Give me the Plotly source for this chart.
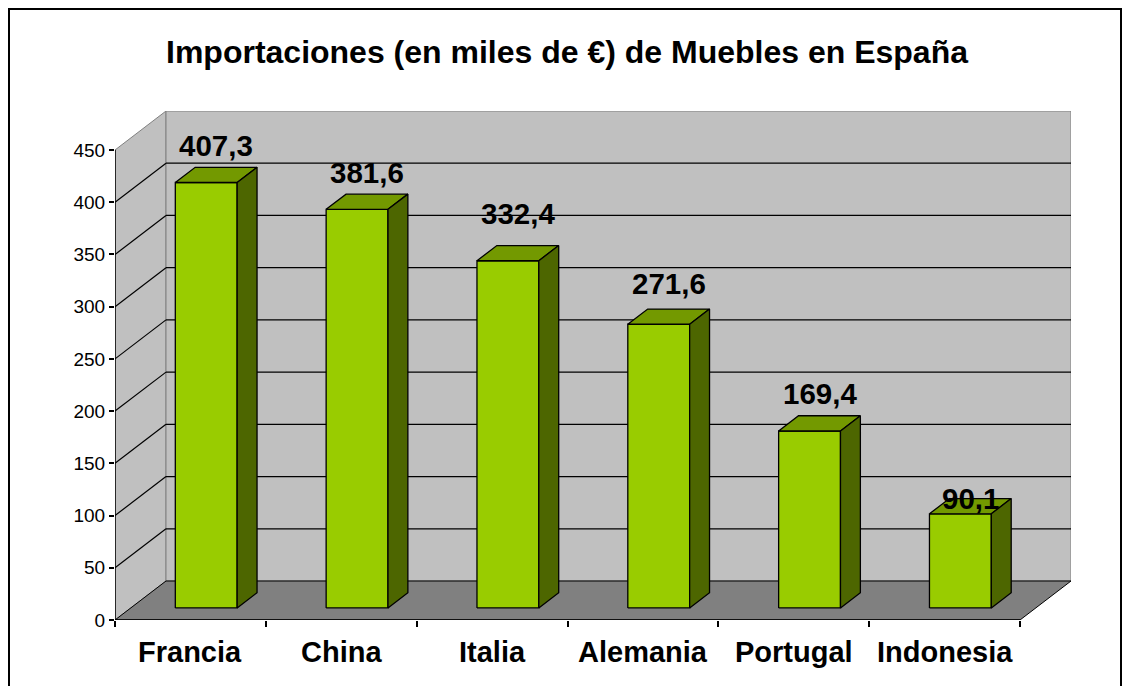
import plotly.graph_objects as go

# ---- data -------------------------------------------------------------
categories = ["Francia", "China", "Italia", "Alemania", "Portugal", "Indonesia"]
values = [407.3, 381.6, 332.4, 271.6, 169.4, 90.1]
y_ticks = [0, 50, 100, 150, 200, 250, 300, 350, 400, 450]
title_text = "Importaciones (en miles de €) de Muebles en España"

# ---- geometry of the oblique 3-D box (pixels) ---------------------------
W, H = 1126, 686
LEFT_PX, BOTTOM_PX = 115, 620          # front-plane origin
FRONT_W_PX, FRONT_H_PX = 905, 470      # front plane size (0..450)
DEPTH_X_PX, DEPTH_Y_PX = 51, 39        # depth offset of the back wall
Y_MAX = y_ticks[-1]
n = len(categories)

px_per_cat = FRONT_W_PX / n
units_per_px = Y_MAX / FRONT_H_PX
DX = DEPTH_X_PX / px_per_cat           # depth in category units
DY = DEPTH_Y_PX * units_per_px         # depth in value units

BAR_HALF = 0.205                       # half bar width (category units)
D_FRONT, D_BACK = 0.31, 0.70           # bar depth slice

FONT = "Liberation Sans, Arial, sans-serif"
FACE = "#99CC00"
TOP = "#739900"
SIDE = "#4D6600"
WALL = "#C0C0C0"
FLOOR = "#808080"


def proj(x, v, d):
    """Project point (category x, value v, depth d in 0..1) to the 2-D plane."""
    return x + d * DX, v + d * DY


def poly(points, fill, line_color, width=1.0):
    xs, ys = zip(*[proj(*p) for p in points])
    xs = list(xs) + [xs[0]]
    ys = list(ys) + [ys[0]]
    return go.Scatter(x=xs, y=ys, mode="lines", fill="toself", fillcolor=fill,
                      line=dict(color=line_color, width=width),
                      hoverinfo="skip", showlegend=False)


def seg(p0, p1, color, width=1.0):
    x0, y0 = proj(*p0)
    x1, y1 = proj(*p1)
    return go.Scatter(x=[x0, x1], y=[y0, y1], mode="lines",
                      line=dict(color=color, width=width),
                      hoverinfo="skip", showlegend=False)


x_lo, x_hi = -0.5, n - 0.5
traces = []

# walls and floor
traces.append(poly([(x_lo, 0, 0), (x_lo, 0, 1), (x_lo, Y_MAX, 1), (x_lo, Y_MAX, 0)], WALL, FLOOR))
traces.append(poly([(x_lo, 0, 1), (x_hi, 0, 1), (x_hi, Y_MAX, 1), (x_lo, Y_MAX, 1)], WALL, FLOOR))
traces.append(poly([(x_lo, 0, 0), (x_hi, 0, 0), (x_hi, 0, 1), (x_lo, 0, 1)], FLOOR, "#000000"))

# gridlines: along the back wall and across the side wall
for v in y_ticks[1:-1]:
    traces.append(seg((x_lo, v, 1), (x_hi, v, 1), "#000000", 1.2))
    traces.append(seg((x_lo, v, 0), (x_lo, v, 1), "#000000", 1.2))

# front axis lines
traces.append(seg((x_lo, 0, 0), (x_lo, Y_MAX, 0), "#000000", 1.5))
traces.append(seg((x_lo, 0, 0), (x_hi, 0, 0), "#000000", 1.5))

# bars
for i, v in enumerate(values):
    l, r = i - BAR_HALF, i + BAR_HALF
    traces.append(poly([(l, 0, D_FRONT), (r, 0, D_FRONT), (r, v, D_FRONT), (l, v, D_FRONT)], FACE, "#000000", 1.3))
    traces.append(poly([(l, v, D_FRONT), (r, v, D_FRONT), (r, v, D_BACK), (l, v, D_BACK)], TOP, "#000000", 1.3))
    traces.append(poly([(r, 0, D_FRONT), (r, 0, D_BACK), (r, v, D_BACK), (r, v, D_FRONT)], SIDE, "#000000", 1.3))

fig = go.Figure(traces)

annotations = []
# value labels above each bar
label_lift = {"Italia": 10, "Alemania": 4, "Indonesia": -22}
for i, (cat, v) in enumerate(zip(categories, values)):
    x, _ = proj(i, v, (D_FRONT + D_BACK) / 2)
    _, y_back = proj(i, v, D_BACK)
    annotations.append(dict(
        x=x, y=y_back, xref="x", yref="y",
        text="<b>" + f"{v:.1f}".replace(".", ",") + "</b>",
        showarrow=False, yanchor="middle", yshift=22 + label_lift.get(cat, 0),
        font=dict(family=FONT, size=29.5, color="#000000")))

# category labels under the front edge
for i, cat in enumerate(categories):
    annotations.append(dict(
        x=i, y=0, xref="x", yref="y", text=f"<b>{cat}</b>", showarrow=False,
        yanchor="middle", yshift=-32,
        font=dict(family=FONT, size=29, color="#000000")))

plot_left = LEFT_PX
plot_right = LEFT_PX + FRONT_W_PX + DEPTH_X_PX
plot_top = BOTTOM_PX - FRONT_H_PX - DEPTH_Y_PX
plot_bottom = BOTTOM_PX

# outer chart border
bx0 = (9 - plot_left) / (plot_right - plot_left)
bx1 = (1121 - plot_left) / (plot_right - plot_left)
by1 = (plot_bottom - 9) / (plot_bottom - plot_top)
by0 = (plot_bottom - 700) / (plot_bottom - plot_top)

fig.update_layout(
    width=W, height=H,
    margin=dict(l=plot_left, r=W - plot_right, t=plot_top, b=H - plot_bottom, pad=0),
    paper_bgcolor="#FFFFFF", plot_bgcolor="rgba(0,0,0,0)",
    font=dict(family=FONT, color="#000000"),
    title=dict(text=f"<b>{title_text}</b>", x=567 / W, y=1 - 52 / H,
               xref="container", yref="container", xanchor="center", yanchor="middle",
               font=dict(family=FONT, size=32, color="#000000")),
    xaxis=dict(range=[x_lo, x_hi + DX], showgrid=False, zeroline=False, showline=False,
               tickvals=[x_lo + k for k in range(n + 1)], ticktext=[""] * (n + 1),
               ticks="outside", ticklen=6, tickwidth=1.5, tickcolor="#000000",
               fixedrange=True),
    yaxis=dict(range=[0, Y_MAX + DY], showgrid=False, zeroline=False, showline=False,
               tickvals=y_ticks, ticks="outside", ticklen=5, tickwidth=1.5,
               tickcolor="#000000", tickfont=dict(family=FONT, size=19, color="#000000"),
               fixedrange=True),
    annotations=annotations,
    shapes=[dict(type="rect", xref="paper", yref="paper", x0=bx0, x1=bx1, y0=by0, y1=by1,
                 line=dict(color="#000000", width=2), fillcolor="rgba(0,0,0,0)", layer="above")],
)

fig.write_html("out.html")
